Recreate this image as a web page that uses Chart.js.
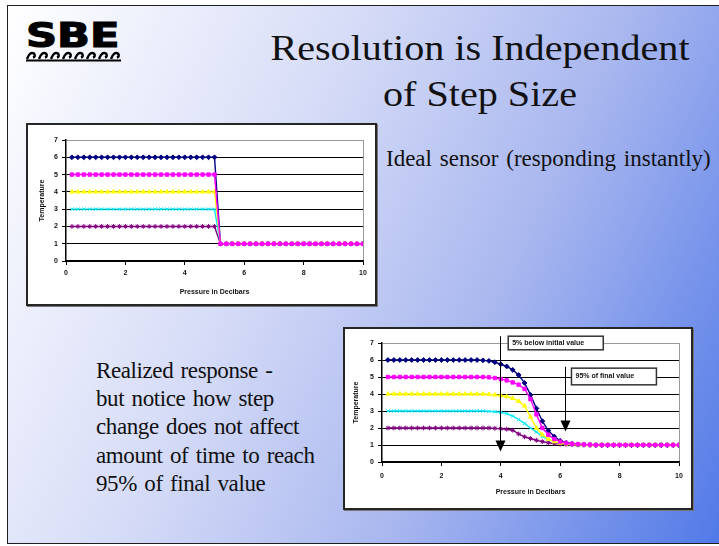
<!DOCTYPE html>
<html>
<head>
<meta charset="utf-8">
<script src="https://cdn.jsdelivr.net/npm/chart.js@4.4.0/dist/chart.umd.min.js"></script>
<style>
  body { margin: 0; background: #fff; }
  #slide { position: relative; width: 719px; height: 546px; overflow: hidden; background: #fff; }
  #frame {
    position: absolute; left: 7px; top: 5px; width: 760px; height: 537px;
    border: 1.5px solid #1e1e1e;
    background: linear-gradient(115deg, #ffffff 0%, #d6dcf7 35%, #a9b7ef 62%, #4470e6 100%);
  }
  .serif { position: absolute; font-family: "Liberation Serif", "Times New Roman", serif; color: #111; white-space: nowrap; }
  #title { left: 230px; top: 26px; width: 500px; text-align: center; font-size: 36px; line-height: 45.7px;
    transform: scaleX(1.115); transform-origin: 250px 0; }
  #ideal { left: 386px; top: 146px; font-size: 23px; word-spacing: 2px; }
  #realized { left: 96px; top: 357px; font-size: 23px; line-height: 28.2px; word-spacing: 2px; letter-spacing: -0.4px; }
  #logo { position: absolute; left: 26px; top: 15px; font-family: "DejaVu Sans", sans-serif; font-weight: bold;
    font-size: 34px; line-height: 40px; transform: scaleX(1.27); transform-origin: left top; color: #000;
    -webkit-text-stroke: 1.2px #000; }
  #wave { position: absolute; left: 25px; top: 48px; }
  .box { position: absolute; background: #fff; border: 2px solid #262626; box-shadow: 1px 1px 0 #777; }
  .box canvas { position: absolute; left: 0; top: 0; }
</style>
</head>
<body>
<div id="slide">
  <div id="frame"></div>
  <div id="logo">SBE</div>
  <svg id="wave" width="98" height="14" viewBox="0 0 98 14">
    <path d="M2 11 Q5 3 9 5.5 Q11 8.5 8 9.5 M14 11 Q17 3 21 5.5 Q23 8.5 20 9.5 M26 11 Q29 3 33 5.5 Q35 8.5 32 9.5 M38 11 Q41 3 45 5.5 Q47 8.5 44 9.5 M50 11 Q53 3 57 5.5 Q59 8.5 56 9.5 M62 11 Q65 3 69 5.5 Q71 8.5 68 9.5 M74 11 Q77 3 81 5.5 Q83 8.5 80 9.5 M86 11 Q89 3 93 5.5 Q95 8.5 92 9.5" fill="none" stroke="#000" stroke-width="2.4"/>
    <path d="M1 12.5 L96 12.5" stroke="#000" stroke-width="2.2"/>
  </svg>
  <div class="serif" id="title">Resolution is Independent<br>of Step Size</div>
  <div class="serif" id="ideal">Ideal sensor (responding instantly)</div>
  <div class="serif" id="realized">Realized response -<br>but notice how step<br>change does not affect<br>amount of time to reach<br>95% of final value</div>

  <div class="box" style="left:26px; top:123px; width:347px; height:179px;">
    <canvas id="idealChart" width="347" height="179"></canvas>
  </div>
  <div class="box" style="left:343px; top:327px; width:346px; height:179px;">
    <canvas id="realChart" width="346" height="179"></canvas>
  </div>
</div>
<script>
const pressure = [0.2, 0.4, 0.6, 0.8, 1, 1.2, 1.4, 1.6, 1.8, 2, 2.2, 2.4, 2.6, 2.8, 3, 3.2, 3.4, 3.6, 3.8, 4, 4.2, 4.4, 4.6, 4.8, 5,
                  5.2, 5.4, 5.6, 5.8, 6, 6.2, 6.4, 6.6, 6.8, 7, 7.2, 7.4, 7.6, 7.8, 8, 8.2, 8.4, 8.6, 8.8, 9, 9.2, 9.4, 9.6, 9.8, 10];

// ideal sensor: instant step at 5 dbar
const ideal6 = [6, 6, 6, 6, 6, 6, 6, 6, 6, 6, 6, 6, 6, 6, 6, 6, 6, 6, 6, 6, 6, 6, 6, 6, 6,
                1, 1, 1, 1, 1, 1, 1, 1, 1, 1, 1, 1, 1, 1, 1, 1, 1, 1, 1, 1, 1, 1, 1, 1, 1];
const ideal5 = [5, 5, 5, 5, 5, 5, 5, 5, 5, 5, 5, 5, 5, 5, 5, 5, 5, 5, 5, 5, 5, 5, 5, 5, 5,
                1, 1, 1, 1, 1, 1, 1, 1, 1, 1, 1, 1, 1, 1, 1, 1, 1, 1, 1, 1, 1, 1, 1, 1, 1];
const ideal4 = [4, 4, 4, 4, 4, 4, 4, 4, 4, 4, 4, 4, 4, 4, 4, 4, 4, 4, 4, 4, 4, 4, 4, 4, 4,
                1, 1, 1, 1, 1, 1, 1, 1, 1, 1, 1, 1, 1, 1, 1, 1, 1, 1, 1, 1, 1, 1, 1, 1, 1];
const ideal3 = [3, 3, 3, 3, 3, 3, 3, 3, 3, 3, 3, 3, 3, 3, 3, 3, 3, 3, 3, 3, 3, 3, 3, 3, 3,
                1, 1, 1, 1, 1, 1, 1, 1, 1, 1, 1, 1, 1, 1, 1, 1, 1, 1, 1, 1, 1, 1, 1, 1, 1];
const ideal2 = [2, 2, 2, 2, 2, 2, 2, 2, 2, 2, 2, 2, 2, 2, 2, 2, 2, 2, 2, 2, 2, 2, 2, 2, 2,
                1, 1, 1, 1, 1, 1, 1, 1, 1, 1, 1, 1, 1, 1, 1, 1, 1, 1, 1, 1, 1, 1, 1, 1, 1];

// realized response
const real6 = [6, 6, 6, 6, 6, 6, 6, 6, 6, 6, 6, 6, 6, 6, 6, 6, 5.98, 5.95, 5.87, 5.75, 5.62, 5.42, 5.12, 4.65, 3.95,
               3.15, 2.4, 1.85, 1.5, 1.25, 1.13, 1.07, 1.04, 1.02, 1.01, 1, 1, 1, 1, 1, 1, 1, 1, 1, 1, 1, 1, 1, 1, 1];
const real5 = [5, 5, 5, 5, 5, 5, 5, 5, 5, 5, 5, 5, 5, 5, 5, 5, 5, 4.98, 4.94, 4.88, 4.8, 4.68, 4.55, 4.3, 3.7,
               2.8, 2.0, 1.6, 1.35, 1.2, 1.12, 1.07, 1.05, 1.03, 1.02, 1, 1, 1, 1, 1, 1, 1, 1, 1, 1, 1, 1, 1, 1, 1];
const real4 = [4, 4, 4, 4, 4, 4, 4, 4, 4, 4, 4, 4, 4, 4, 4, 4, 4, 3.98, 3.95, 3.91, 3.85, 3.75, 3.58, 3.3, 2.65,
               2.0, 1.6, 1.35, 1.2, 1.12, 1.07, 1.04, 1.02, 1.01, 1, 1, 1, 1, 1, 1, 1, 1, 1, 1, 1, 1, 1, 1, 1, 1];
const real3 = [3, 3, 3, 3, 3, 3, 3, 3, 3, 3, 3, 3, 3, 3, 3, 3, 3, 2.98, 2.96, 2.92, 2.85, 2.7, 2.5, 2.27, 2.0,
               1.77, 1.5, 1.33, 1.2, 1.12, 1.07, 1.04, 1.02, 1.01, 1, 1, 1, 1, 1, 1, 1, 1, 1, 1, 1, 1, 1, 1, 1, 1];
const real2 = [2, 2, 2, 2, 2, 2, 2, 2, 2, 2, 2, 2, 2, 2, 2, 2, 2, 2, 1.98, 1.96, 1.93, 1.87, 1.65, 1.48, 1.38,
               1.28, 1.2, 1.13, 1.08, 1.05, 1.03, 1.02, 1.01, 1, 1, 1, 1, 1, 1, 1, 1, 1, 1, 1, 1, 1, 1, 1, 1, 1];

const seriesColors = ["#000080", "#ff00ff", "#ffff00", "#00e8ff", "#800080"];
const seriesMarkers = ["rectRot", "rect", "triangle", "crossRot", "star"];
const drawOrder = [2, 0, 1, 3, 4];

const xTicks = [0, 2, 4, 6, 8, 10];
const yTicks = [0, 1, 2, 3, 4, 5, 6, 7];

// arrows and callouts on the realized chart
const arrowX = [3.98, 6.15];
const arrowFrom = [7.4, 5.6];
const arrowTo = [0.62, 1.8];
const calloutText = ["5% below initial value", "95% of final value"];
const calloutX = [4.25, 6.38];
const calloutX2 = [7.45, 9.24];
const calloutTop = [7.4, 5.52];
const calloutBottom = [6.6, 4.54];

const smallFont = { family: "Liberation Sans", size: 7, weight: "bold" };

const arrowPlugin = {
  id: "arrows",
  afterDatasetsDraw(chart) {
    const ctx = chart.ctx;
    const xs = chart.scales.x;
    const ys = chart.scales.y;
    ctx.save();
    ctx.strokeStyle = "#000";
    ctx.fillStyle = "#000";
    ctx.lineWidth = 1;
    arrowX.forEach((xv, i) => {
      const px = Math.round(xs.getPixelForValue(xv)) + 0.5;
      const y1 = ys.getPixelForValue(arrowFrom[i]);
      const y2 = ys.getPixelForValue(arrowTo[i]);
      ctx.beginPath();
      ctx.moveTo(px, y1);
      ctx.lineTo(px, y2 - 10);
      ctx.stroke();
      ctx.beginPath();
      ctx.moveTo(px - 5, y2 - 11);
      ctx.lineTo(px + 5, y2 - 11);
      ctx.lineTo(px, y2);
      ctx.closePath();
      ctx.fill();
    });
    calloutText.forEach((t, i) => {
      const l = xs.getPixelForValue(calloutX[i]);
      const r = xs.getPixelForValue(calloutX2[i]);
      const tp = ys.getPixelForValue(calloutTop[i]);
      const bt = ys.getPixelForValue(calloutBottom[i]);
      ctx.fillStyle = "#fff";
      ctx.fillRect(l, tp, r - l, bt - tp);
      ctx.strokeStyle = "#333";
      ctx.lineWidth = 1.5;
      ctx.strokeRect(l, tp, r - l, bt - tp);
      ctx.fillStyle = "#111";
      ctx.font = "bold 7px 'Liberation Sans'";
      ctx.textBaseline = "middle";
      ctx.fillText(t, l + 4, (tp + bt) / 2);
    });
    ctx.restore();
  }
};

function buildChart(id, seriesList, box, extra) {
  const datasets = seriesList.map((values, i) => ({
    data: values.map((v, j) => ({ x: pressure[j], y: v })),
    borderColor: seriesColors[i],
    backgroundColor: seriesColors[i],
    pointStyle: seriesMarkers[i],
    pointRadius: 2.4,
    pointBorderWidth: 1,
    borderWidth: 1.4,
    order: drawOrder[i],
    tension: 0
  }));

  return new Chart(document.getElementById(id), {
    type: "line",
    data: { datasets },
    options: {
      responsive: false,
      animation: false,
      layout: { padding: { top: box.top, right: box.right, left: 0, bottom: 0 } },
      plugins: { legend: { display: false }, tooltip: { enabled: false } },
      scales: {
        x: {
          type: "linear", min: 0, max: 10,
          afterBuildTicks: s => { s.ticks = xTicks.map(v => ({ value: v })); },
          afterFit: s => { s.height = box.bottom; },
          ticks: { font: smallFont, color: "#111", padding: box.xPad, maxRotation: 0 },
          grid: {
            color: c => (c.tick && c.tick.value === 10 ? "#999" : "rgba(0,0,0,0)"),
            tickColor: "#000", tickLength: 4, lineWidth: 1
          },
          border: { color: "#000", width: 1.5 },
          title: { display: true, text: "Pressure in Decibars", font: smallFont, color: "#111",
                   padding: { top: 0, bottom: box.xTitle } }
        },
        y: {
          min: 0, max: 7,
          afterBuildTicks: s => { s.ticks = yTicks.map(v => ({ value: v })); },
          afterFit: s => { s.width = box.left; },
          ticks: { font: smallFont, color: "#111", padding: 4 },
          grid: {
            color: c => (c.tick && c.tick.value === 7 ? "#999" : "#000"),
            tickColor: "#000", tickLength: 4, lineWidth: 1
          },
          border: { color: "#000", width: 1.5 },
          title: { display: true, text: "Temperature", font: smallFont, color: "#111",
                   padding: { top: box.yTitle, bottom: 0 } }
        }
      }
    },
    plugins: extra
  });
}

buildChart("idealChart", [ideal6, ideal5, ideal4, ideal3, ideal2],
  { left: 38, top: 15, right: 12, bottom: 43, xPad: 4, xTitle: 8, yTitle: 10 }, []);
buildChart("realChart", [real6, real5, real4, real3, real2],
  { left: 37, top: 14, right: 12, bottom: 46, xPad: 6, xTitle: 12, yTitle: 7 }, [arrowPlugin]);
</script>
</body>
</html>
